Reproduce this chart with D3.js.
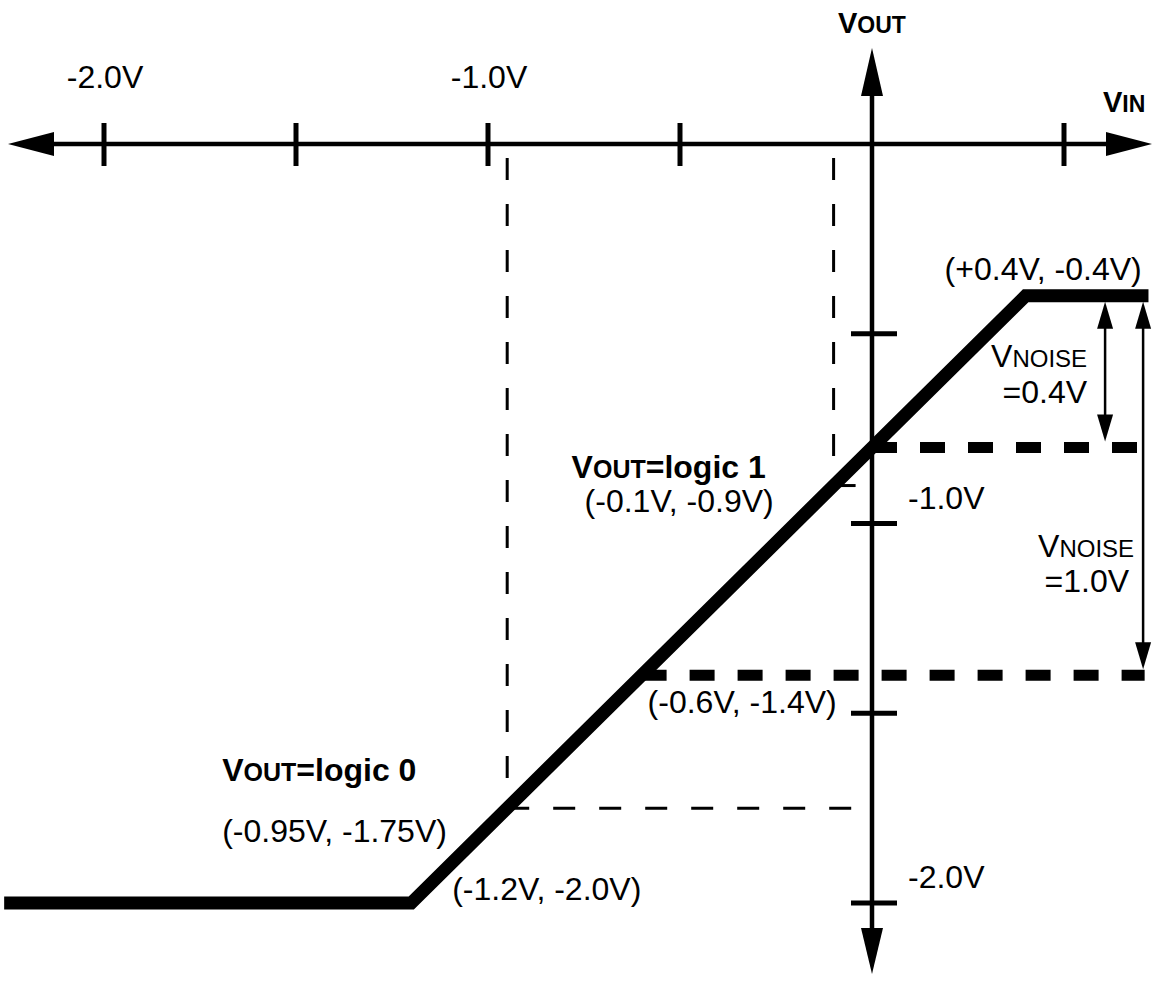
<!DOCTYPE html>
<html>
<head>
<meta charset="utf-8">
<script src="https://cdn.jsdelivr.net/npm/d3@7"></script>
<style>
body { margin: 0; background: #fff; }
svg { display: block; }
text { font-family: "Liberation Sans", Arial, Helvetica, sans-serif; fill: #000; }
</style>
</head>
<body>
<div id="chart"></div>
<script>
// transfer curve, volts
const curveVin = [-2.26, -1.2, 0.4, 0.72];
const curveVout = [-2.0, -2.0, -0.4, -0.4];

const xTicks = [-2.0, -1.5, -1.0, -0.5, 0.5];
const xTickLabels = ["-2.0V", "", "-1.0V", "", ""];
const yTicks = [-0.5, -1.0, -1.5, -2.0];
const yTickLabels = ["", "-1.0V", "", "-2.0V"];

// thin dashed guides to the input thresholds
const guideVin = [-0.95, -0.1];
const guideVout = [-1.75, -0.9];

// thick dashed output levels
const levelVout = [-0.8, -1.4];
const levelStartVin = [0.0, -0.6];
const levelEndVin = 0.71;

// noise margin arrows
const marginVin = [0.607, 0.706];
const marginTop = [-0.4, -0.4];
const marginBottom = [-0.8, -1.4];
const marginLabels = ["=0.4V", "=1.0V"];

const pointLabels = ["(+0.4V, -0.4V)", "(-0.1V, -0.9V)", "(-0.6V, -1.4V)", "(-0.95V, -1.75V)", "(-1.2V, -2.0V)"];
const logicLabels = ["logic 1", "logic 0"];

const width = 1159, height = 999;

const x = d3.scaleLinear().domain([-2, 0]).range([104, 872]);
const y = d3.scaleLinear().domain([0, -2]).range([144, 903]);

const svg = d3.select("#chart")
    .append("svg")
    .attr("width", width)
    .attr("height", height);

function arrowHead(tx, ty, dx, dy, len, half) {
    // tip at (tx, ty), pointing along (dx, dy)
    const bx = tx - dx * len, by = ty - dy * len;
    const px = -dy * half, py = dx * half;
    return "M" + tx + "," + ty + "L" + (bx + px) + "," + (by + py) + "L" + (bx - px) + "," + (by - py) + "Z";
}

// thin dashed guides
guideVin.forEach((v, i) => {
    svg.append("line")
        .attr("x1", x(v)).attr("x2", x(v))
        .attr("y1", y(0) + 14).attr("y2", y(guideVout[i]))
        .attr("stroke", "#000").attr("stroke-width", 3)
        .attr("stroke-dasharray", "22,24");
    svg.append("line")
        .attr("x1", x(v)).attr("x2", x(0))
        .attr("y1", y(guideVout[i])).attr("y2", y(guideVout[i]))
        .attr("stroke", "#000").attr("stroke-width", 3)
        .attr("stroke-dasharray", "22,24");
});

// thick dashed levels
levelVout.forEach((v, i) => {
    svg.append("line")
        .attr("x1", x(levelStartVin[i])).attr("x2", x(levelEndVin))
        .attr("y1", y(v)).attr("y2", y(v))
        .attr("stroke", "#000").attr("stroke-width", 11)
        .attr("stroke-dasharray", "25,23");
});

// axes
const axisY = y(0), axisX = x(0);
svg.append("line")
    .attr("x1", 50).attr("x2", 1110)
    .attr("y1", axisY).attr("y2", axisY)
    .attr("stroke", "#000").attr("stroke-width", 4.5);
svg.append("path").attr("d", arrowHead(8, axisY, -1, 0, 46, 12));
svg.append("path").attr("d", arrowHead(1152, axisY, 1, 0, 46, 12));

svg.append("line")
    .attr("x1", axisX).attr("x2", axisX)
    .attr("y1", 92).attr("y2", 930)
    .attr("stroke", "#000").attr("stroke-width", 4.5);
svg.append("path").attr("d", arrowHead(axisX, 48, 0, -1, 48, 11));
svg.append("path").attr("d", arrowHead(axisX, 974, 0, 1, 46, 11));

svg.selectAll(".xtick")
    .data(xTicks)
    .enter()
    .append("line")
    .attr("x1", d => x(d)).attr("x2", d => x(d))
    .attr("y1", axisY - 21).attr("y2", axisY + 22)
    .attr("stroke", "#000").attr("stroke-width", 5);

svg.selectAll(".xlabel")
    .data(xTicks)
    .enter()
    .append("text")
    .attr("x", d => x(d) + 1)
    .attr("y", axisY - 56)
    .attr("text-anchor", "middle")
    .style("font-size", "32px")
    .text((d, i) => xTickLabels[i]);

svg.selectAll(".ytick")
    .data(yTicks)
    .enter()
    .append("line")
    .attr("x1", axisX - 21).attr("x2", axisX + 25)
    .attr("y1", d => y(d)).attr("y2", d => y(d))
    .attr("stroke", "#000").attr("stroke-width", 5);

svg.selectAll(".ylabel")
    .data(yTicks)
    .enter()
    .append("text")
    .attr("x", axisX + 36)
    .attr("y", d => y(d) - 15)
    .style("font-size", "32px")
    .text((d, i) => yTickLabels[i]);

// transfer curve
const line = d3.line().x(d => x(d[0])).y(d => y(d[1]));
svg.append("path")
    .attr("d", line(d3.zip(curveVin, curveVout)))
    .attr("fill", "none")
    .attr("stroke", "#000")
    .attr("stroke-width", 13)
    .attr("stroke-linejoin", "miter");

// noise margin arrows
marginVin.forEach((v, i) => {
    const top = y(marginTop[i]) + 6, bot = y(marginBottom[i]) - 6;
    svg.append("line")
        .attr("x1", x(v)).attr("x2", x(v))
        .attr("y1", top + 20).attr("y2", bot - 20)
        .attr("stroke", "#000").attr("stroke-width", 2.5);
    svg.append("path").attr("d", arrowHead(x(v), top, 0, -1, 27, 8));
    svg.append("path").attr("d", arrowHead(x(v), bot, 0, 1, 27, 8));
});

// labels with small caps
function capsLabel(px, py, big, small, rest, bold, anchor, bigSize, smallSize) {
    const t = svg.append("text")
        .attr("x", px).attr("y", py)
        .attr("text-anchor", anchor || "start")
        .style("font-weight", bold ? "bold" : "normal")
        .style("font-size", bigSize + "px");
    t.append("tspan").text(big);
    t.append("tspan").style("font-size", smallSize + "px").text(small);
    if (rest) t.append("tspan").text(rest);
    return t;
}

capsLabel(axisX - 34, 33, "V", "OUT", null, true, "start", 29, 23);
capsLabel(1103, 112, "V", "IN", null, true, "start", 29, 23);

function plain(px, py, s, anchor) {
    svg.append("text")
        .attr("x", px).attr("y", py)
        .attr("text-anchor", anchor || "start")
        .style("font-size", "32px")
        .text(s);
}

plain(x(0.4) - 81, y(-0.4) - 16, pointLabels[0]);
capsLabel(x(-0.1) - 262, y(-0.9) - 8, "V", "OUT", "=" + logicLabels[0], true, "start", 32, 25);
plain(x(-0.1) - 249, y(-0.9) + 26, pointLabels[1]);
plain(x(-0.6) + 6, y(-1.4) + 38, pointLabels[2]);
capsLabel(x(-0.95) - 285, y(-1.75) - 27, "V", "OUT", "=" + logicLabels[1], true, "start", 32, 25);
plain(x(-0.95) - 285, y(-1.75) + 34, pointLabels[3]);
plain(x(-1.2) + 41, y(-2.0) - 3, pointLabels[4]);

capsLabel(x(marginVin[0]) - 18, 367, "V", "NOISE", null, false, "end", 32, 24);
plain(x(marginVin[0]) - 18, 403, marginLabels[0], "end");
capsLabel(x(marginVin[1]) - 9, 557, "V", "NOISE", null, false, "end", 32, 24);
plain(x(marginVin[1]) - 14, 592, marginLabels[1], "end");
</script>
</body>
</html>
